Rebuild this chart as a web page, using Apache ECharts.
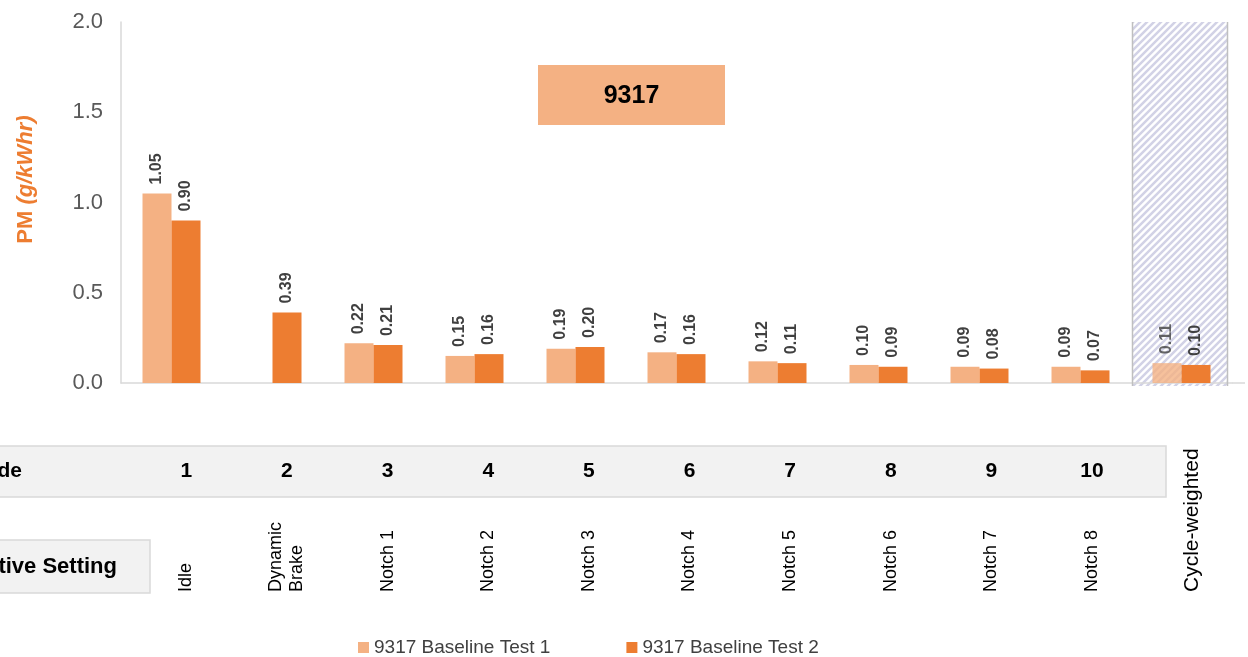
<!DOCTYPE html>
<html>
<head>
<meta charset="utf-8">
<script src="https://cdn.jsdelivr.net/npm/echarts@6/dist/echarts.min.js"></script>
<style>
  html, body { margin: 0; padding: 0; background: #fff; }
  #main { width: 1248px; height: 657px; }
</style>
</head>
<body>
<div id="main"></div>
<script>
// data
const settings = ['Idle', 'Dynamic\nBrake', 'Notch 1', 'Notch 2', 'Notch 3', 'Notch 4',
  'Notch 5', 'Notch 6', 'Notch 7', 'Notch 8', 'Cycle-weighted'];
const modes = ['1', '2', '3', '4', '5', '6', '7', '8', '9', '10', ''];
const test1 = [1.05, null, 0.22, 0.15, 0.19, 0.17, 0.12, 0.10, 0.09, 0.09, 0.11];
const test2 = [0.90, 0.39, 0.21, 0.16, 0.20, 0.16, 0.11, 0.09, 0.08, 0.07, 0.10];
const seriesNames = ['9317 Baseline Test 1', '9317 Baseline Test 2'];
const yMin = 0, yMax = 2, yStep = 0.5;
const boxTitle = '9317';

const FONT = 'Liberation Sans, Arial, sans-serif';
const LIGHT = '#f4b183';
const DARK = '#ed7d31';

const chart = echarts.init(document.getElementById('main'), null, { renderer: 'canvas' });

// hatch pattern for the cycle-weighted band
const pat = document.createElement('canvas');
pat.width = 7; pat.height = 7;
const pctx = pat.getContext('2d');
pctx.strokeStyle = '#d2d2e6';
pctx.lineWidth = 2.5;
pctx.beginPath();
pctx.moveTo(-1, 8); pctx.lineTo(8, -1);
pctx.moveTo(-4, 4); pctx.lineTo(4, -4);
pctx.moveTo(3, 11); pctx.lineTo(11, 3);
pctx.stroke();

const last = settings.length - 1;
const barLabel = {
  show: true,
  position: 'top',
  rotate: 90,
  align: 'left',
  verticalAlign: 'middle',
  distance: 9,
  fontFamily: FONT,
  fontSize: 16,
  fontWeight: 'bold',
  color: '#404040',
  formatter: p => p.value == null ? '' : Number(p.value).toFixed(2)
};

const option = {
  animation: false,
  textStyle: { fontFamily: FONT },
  grid: [
    { left: 121, top: 22, width: 1111, height: 361 },
    { left: 136, top: 471, width: 1107, height: 1 },
    { left: 136, top: 592, width: 1107, height: 1 }
  ],
  legend: {
    data: seriesNames,
    left: 353,
    top: 633,
    icon: 'rect',
    itemWidth: 11,
    itemHeight: 11,
    itemGap: 76,
    textStyle: { fontFamily: FONT, fontSize: 19, color: '#404040' }
  },
  xAxis: [
    {
      type: 'category', gridIndex: 0, data: settings,
      axisLine: { lineStyle: { color: '#d9d9d9', width: 1.5 } },
      axisTick: { show: false },
      axisLabel: { show: false }
    },
    {
      type: 'category', gridIndex: 1, data: modes, position: 'top', z: 5,
      axisLine: { show: false }, axisTick: { show: false },
      axisLabel: {
        interval: 0, margin: 0, verticalAlign: 'middle',
        fontFamily: FONT, fontSize: 21, fontWeight: 'bold', color: '#000'
      }
    },
    {
      type: 'category', gridIndex: 2, data: settings, position: 'top', z: 5,
      axisLine: { show: false }, axisTick: { show: false },
      axisLabel: {
        interval: 0, margin: 0, rotate: 90, lineHeight: 21,
        fontFamily: FONT, fontSize: 18, color: '#000',
        formatter: v => v === 'Cycle-weighted' ? '{big|' + v + '}' : v,
        rich: { big: { fontFamily: FONT, fontSize: 21, color: '#000' } }
      }
    }
  ],
  yAxis: [
    {
      type: 'value', gridIndex: 0, min: yMin, max: yMax, interval: yStep,
      name: '{a|PM }{b|(g/kWhr)}',
      nameLocation: 'middle',
      nameGap: 84,
      nameRotate: 90,
      nameTextStyle: {
        padding: [0, 0, 0, 46],
        rich: {
          a: { fontFamily: FONT, fontSize: 22, fontWeight: 'bold', color: DARK },
          b: { fontFamily: FONT, fontSize: 22, fontWeight: 'bold', fontStyle: 'italic', color: DARK }
        }
      },
      axisLine: { show: true, lineStyle: { color: '#d9d9d9', width: 1.5 } },
      axisTick: { show: false },
      splitLine: { show: false },
      axisLabel: {
        margin: 18, fontFamily: FONT, fontSize: 22, color: '#595959',
        formatter: v => v.toFixed(1)
      }
    },
    { type: 'value', gridIndex: 1, show: false },
    { type: 'value', gridIndex: 2, show: false }
  ],
  series: [
    {
      name: seriesNames[0], type: 'bar', xAxisIndex: 0, yAxisIndex: 0,
      barWidth: 29, barGap: '0%',
      itemStyle: { color: LIGHT },
      label: barLabel,
      data: test1.map((v, i) => i === last ? { value: v, itemStyle: { opacity: 0.8 } } : v)
    },
    {
      name: seriesNames[1], type: 'bar', xAxisIndex: 0, yAxisIndex: 0,
      barWidth: 29, barGap: '0%',
      itemStyle: { color: DARK },
      label: barLabel,
      data: test2
    }
  ]
};

chart.setOption(option);

// decorations placed from the chart's own scales
const cx = chart.convertToPixel({ xAxisIndex: 0 }, settings[last]);
const yTop = chart.convertToPixel({ yAxisIndex: 0 }, yMax);
const yBase = chart.convertToPixel({ yAxisIndex: 0 }, yMin);
const band = 1111 / settings.length;
const hx0 = cx - band / 2 + 1.5;
const hx1 = cx + band / 2 - 4.5;

chart.setOption({
  graphic: [
    {
      type: 'rect', z: 0,
      shape: { x: hx0, y: yTop, width: hx1 - hx0, height: yBase - yTop + 3 },
      style: { fill: { image: pat, repeat: 'repeat' } }
    },
    { type: 'line', z: 1, shape: { x1: hx0, y1: yTop, x2: hx0, y2: yBase + 3 }, style: { stroke: '#bfbfbf', lineWidth: 1.5 } },
    { type: 'line', z: 1, shape: { x1: hx1, y1: yTop, x2: hx1, y2: yBase + 3 }, style: { stroke: '#bfbfbf', lineWidth: 1.5 } },
    { type: 'line', z: 1, shape: { x1: 121 + 1111, y1: yBase, x2: 1245, y2: yBase }, style: { stroke: '#d9d9d9', lineWidth: 1.5 } },
    // title box
    { type: 'rect', z: 1, shape: { x: 538, y: 65, width: 187, height: 60 }, style: { fill: LIGHT } },
    {
      type: 'text', z: 2, x: 631.5, y: 96,
      style: { text: boxTitle, fill: '#000', font: 'bold 25px ' + FONT, textAlign: 'center', textVerticalAlign: 'middle' }
    },
    // mode row
    { type: 'rect', z: 0, shape: { x: -2, y: 446, width: 1168, height: 51 }, style: { fill: '#f2f2f2', stroke: '#d9d9d9', lineWidth: 1.5 } },
    {
      type: 'text', z: 2, x: 22, y: 471,
      style: { text: 'Mode', fill: '#000', font: 'bold 21px ' + FONT, textAlign: 'right', textVerticalAlign: 'middle' }
    },
    // setting label box
    { type: 'rect', z: 0, shape: { x: -2, y: 540, width: 152, height: 53 }, style: { fill: '#f2f2f2', stroke: '#d9d9d9', lineWidth: 1.5 } },
    {
      type: 'text', z: 2, x: 117, y: 567,
      style: { text: 'Locomotive Setting', fill: '#000', font: 'bold 22px ' + FONT, textAlign: 'right', textVerticalAlign: 'middle' }
    }
  ]
});
</script>
</body>
</html>
